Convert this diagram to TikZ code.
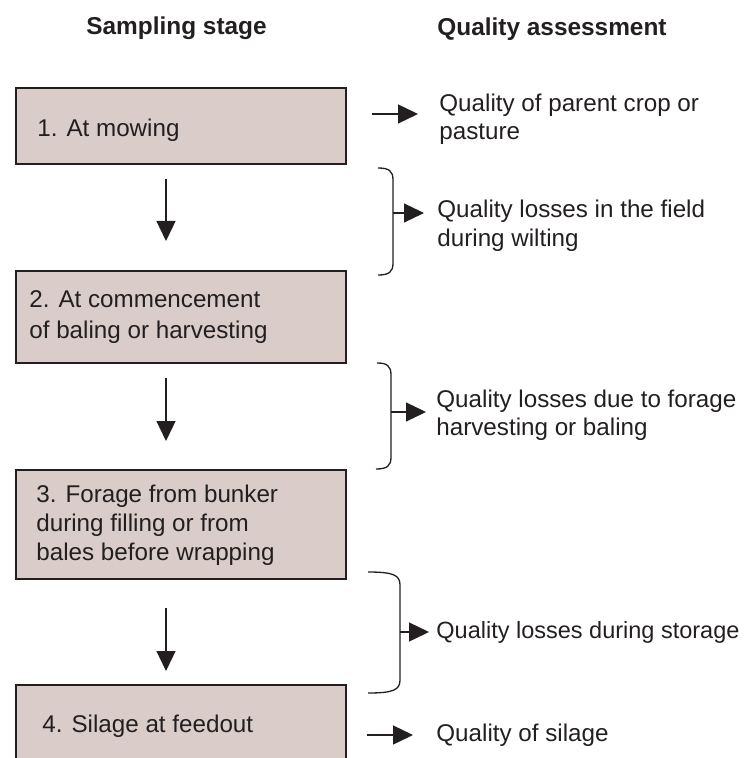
\documentclass[tikz,border=0pt]{standalone}
\usepackage{fontspec}
\setmainfont{Liberation Sans}
\usetikzlibrary{arrows.meta}
\definecolor{boxfill}{RGB}{217,204,201}
\definecolor{ink}{RGB}{35,31,32}
\begin{document}
\begin{tikzpicture}[x=0.5pt,y=-0.5pt,
  stagebox/.style={draw=ink, line width=1pt, fill=boxfill, inner sep=0pt},
  txt/.style={anchor=base west, inner sep=0pt, font=\fontsize{12.1}{15}\selectfont, text=ink},
  hdr/.style={anchor=base west, inner sep=0pt, font=\fontsize{12.2}{15}\selectfont\bfseries, text=ink},
  flow/.style={draw=ink, line width=0.65pt, -{Triangle[length=10pt,width=9.5pt]}},
  bracket/.style={draw=ink, line width=0.65pt}]

\useasboundingbox (0,0) rectangle (746,758);

% headers
\node[hdr] (h1) at (86,35) {Sampling stage};
\node[hdr] (h2) at (437,36) {Quality assessment};

% stage boxes
\node[stagebox, minimum width=165pt, minimum height=38pt] (s1) at (181,126) {};
\node[stagebox, minimum width=165pt, minimum height=46pt] (s2) at (181,317) {};
\node[stagebox, minimum width=165pt, minimum height=54.5pt] (s3) at (181,524.5) {};
\node[stagebox, minimum width=165pt, minimum height=50pt] (s4) at (181,735) {};

\node[txt] (s1a) at (37,137) {1. At mowing};
\node[txt] (s2a) at (29,308) {2. At commencement};
\node[txt] (s2b) at (29,338) {of baling or harvesting};
\node[txt] (s3a) at (36,502) {3. Forage from bunker};
\node[txt] (s3b) at (36,531) {during filling or from};
\node[txt] (s3c) at (36,560) {bales before wrapping};
\node[txt] (s4a) at (42,732) {4. Silage at feedout};

% down arrows
\coordinate (d1s) at (166,179); \coordinate (d1e) at (166,241);
\coordinate (d2s) at (166,378); \coordinate (d2e) at (166,441);
\coordinate (d3s) at (166,608); \coordinate (d3e) at (166,671);
\draw[flow] (d1s) -- (d1e);
\draw[flow] (d2s) -- (d2e);
\draw[flow] (d3s) -- (d3e);

% assessment texts
\node[txt] (q1a) at (439,112) {Quality of parent crop or};
\node[txt] (q1b) at (439,140) {pasture};
\node[txt] (q2a) at (437,218) {Quality losses in the field};
\node[txt] (q2b) at (437,247) {during wilting};
\node[txt] (q3a) at (436,407) {Quality losses due to forage};
\node[txt] (q3b) at (436,435) {harvesting or baling};
\node[txt, font=\fontsize{11.75}{15}\selectfont] (q4a) at (436,638) {Quality losses during storage};
\node[txt] (q5a) at (436,741) {Quality of silage};

% direct arrows
\coordinate (r1s) at (372,114); \coordinate (r1e) at (418,114);
\coordinate (r5s) at (367,735); \coordinate (r5e) at (413,735);
\draw[flow] (r1s) -- (r1e);
\draw[flow] (r5s) -- (r5e);

% brackets
\draw[bracket] (378,168) .. controls (389,168) and (393,171) .. (393,180) -- (393,263)
  .. controls (393,272) and (389,275) .. (378,275);
\coordinate (b1s) at (393,213); \coordinate (b1e) at (424,213);
\draw[flow] (b1s) -- (b1e);

\draw[bracket] (377,363) .. controls (387,363) and (391,366) .. (391,375) -- (391,457)
  .. controls (391,466) and (387,469) .. (376,469);
\coordinate (b2s) at (391,412); \coordinate (b2e) at (426,412);
\draw[flow] (b2s) -- (b2e);

\draw[bracket] (368,572) .. controls (393,572) and (400,575) .. (400,585) -- (400,680)
  .. controls (400,690) and (393,693) .. (368,693);
\coordinate (b3s) at (400,632); \coordinate (b3e) at (429,632);
\draw[flow] (b3s) -- (b3e);

\end{tikzpicture}
\end{document}
